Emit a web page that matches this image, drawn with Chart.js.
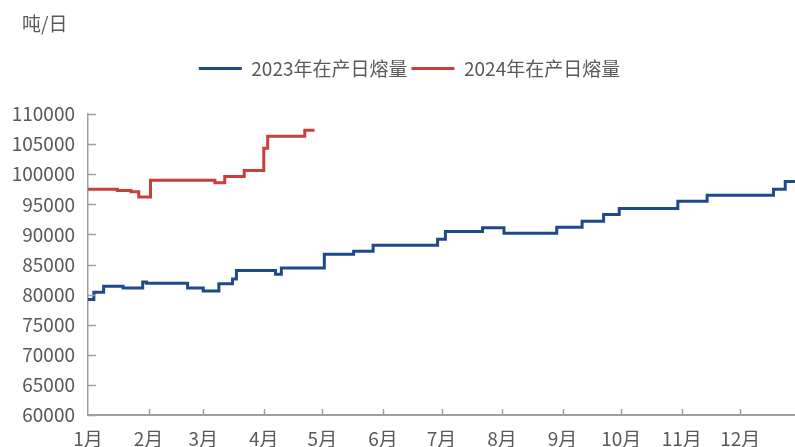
<!DOCTYPE html>
<html>
<head>
<meta charset="utf-8">
<script src="https://cdn.jsdelivr.net/npm/chart.js@4/dist/chart.umd.min.js"></script>
<style>
  html, body { margin: 0; padding: 0; background: #fff; }
  #wrap { width: 795px; height: 447px; }
</style>
</head>
<body>
<div id="wrap"><canvas id="meltChart"></canvas></div>
<script>
// day of year where each step starts, and the value from that day on
const days2023 = [0, 3, 8, 18, 28, 30, 51, 59, 67, 74, 76, 96, 99, 121, 136, 146, 179, 183, 202, 213, 240, 253, 264, 272, 302, 317, 351, 357, 362];
const values2023 = [79200, 80400, 81400, 81100, 82100, 81900, 81100, 80600, 81800, 82600, 84000, 83400, 84400, 86700, 87200, 88200, 89200, 90500, 91100, 90200, 91200, 92200, 93300, 94300, 95500, 96500, 97500, 98800, 98800];

const days2024 = [0, 15, 22, 26, 32, 65, 70, 80, 90, 92, 111, 116];
const values2024 = [97500, 97300, 97100, 96200, 99000, 98600, 99600, 100600, 104300, 106300, 107300, 107300];

const monthStarts = [0, 31, 59, 90, 120, 151, 181, 212, 243, 273, 304, 334];
const monthLabels = ['1月', '2月', '3月', '4月', '5月', '6月', '7月', '8月', '9月', '10月', '11月', '12月'];

const seriesNames = ['2023年在产日熔量', '2024年在产日熔量'];

const FONT = '"Noto Sans CJK SC", "Noto Sans", sans-serif';
const TEXT = '#595959';
const AXIS = '#a0a0a0';

function toPoints(xs, ys) {
    return xs.map((d, i) => ({ x: d, y: ys[i] }));
}

// unit label at top left
const unitLabel = {
    id: 'unitLabel',
    afterDraw(chart) {
        const ctx = chart.ctx;
        ctx.save();
        ctx.font = '19px ' + FONT;
        ctx.fillStyle = TEXT;
        ctx.textBaseline = 'middle';
        ctx.fillText('吨/日', 22, 24);
        ctx.restore();
    }
};

// short tick marks pointing into the plot
const innerTicks = {
    id: 'innerTicks',
    afterDraw(chart) {
        const ctx = chart.ctx;
        const area = chart.chartArea;
        const xs = chart.scales.x, ys = chart.scales.y;
        ctx.save();
        ctx.strokeStyle = AXIS;
        ctx.lineWidth = 1.5;
        ctx.beginPath();
        ys.ticks.forEach(t => {
            const py = Math.round(ys.getPixelForValue(t.value)) + 0.5;
            ctx.moveTo(area.left, py);
            ctx.lineTo(area.left + 8, py);
        });
        xs.ticks.forEach((t, i) => {
            if (i === 0) return;
            const px = Math.round(xs.getPixelForValue(t.value)) + 0.5;
            ctx.moveTo(px, area.bottom);
            ctx.lineTo(px, area.bottom - 6);
        });
        ctx.stroke();
        ctx.restore();
    }
};

// extra room under the legend, and nudge it a bit right
const legendGap = {
    id: 'legendGap',
    beforeInit(chart) {
        const legend = chart.legend;
        const origFit = legend.fit;
        const origDraw = legend.draw;
        legend.fit = function() {
            origFit.call(this);
            this.height = 59;
        };
        legend.draw = function() {
            this.ctx.save();
            this.ctx.translate(12, 0);
            origDraw.call(this);
            this.ctx.restore();
        };
    }
};

const ctx = document.getElementById('meltChart').getContext('2d');

new Chart(ctx, {
    type: 'line',
    data: {
        datasets: [{
            label: seriesNames[0],
            data: toPoints(days2023, values2023),
            borderColor: '#1f4a8a',
            backgroundColor: '#1f4a8a',
            borderWidth: 3,
            stepped: true,
            pointRadius: 0
        }, {
            label: seriesNames[1],
            data: toPoints(days2024, values2024),
            borderColor: '#c9403a',
            backgroundColor: '#c9403a',
            borderWidth: 3,
            stepped: true,
            pointRadius: 0
        }]
    },
    options: {
        responsive: true,
        maintainAspectRatio: false,
        animation: false,
        layout: { padding: { left: 0, right: 0, top: 55, bottom: 0 } },
        plugins: {
            legend: {
                position: 'top',
                labels: {
                    boxWidth: 43,
                    boxHeight: 3,
                    padding: 4,
                    color: TEXT,
                    font: { family: FONT, size: 19 },
                    generateLabels(chart) {
                        const items = Chart.defaults.plugins.legend.labels.generateLabels(chart);
                        items.forEach(it => { it.lineWidth = 0; it.fillStyle = it.strokeStyle; });
                        return items;
                    }
                }
            },
            tooltip: { enabled: false }
        },
        scales: {
            x: {
                type: 'linear',
                min: 0,
                max: 362,
                afterBuildTicks(scale) {
                    scale.ticks = monthStarts.map(v => ({ value: v }));
                },
                afterFit(scale) { scale.height = 32; },
                grid: { display: false, drawTicks: false },
                border: { display: true, color: AXIS, width: 2 },
                ticks: {
                    autoSkip: false,
                    maxRotation: 0,
                    padding: 12,
                    color: TEXT,
                    font: { family: FONT, size: 19 },
                    callback: (value, index) => monthLabels[index]
                }
            },
            y: {
                min: 60000,
                max: 110000,
                afterFit(scale) { scale.width = 88; },
                grid: { display: false, drawTicks: false },
                border: { display: true, color: AXIS, width: 1.5 },
                ticks: {
                    stepSize: 5000,
                    padding: 13,
                    color: TEXT,
                    font: { family: FONT, size: 19 },
                    callback: value => String(value)
                }
            }
        }
    },
    plugins: [unitLabel, innerTicks, legendGap]
});
</script>
</body>
</html>
